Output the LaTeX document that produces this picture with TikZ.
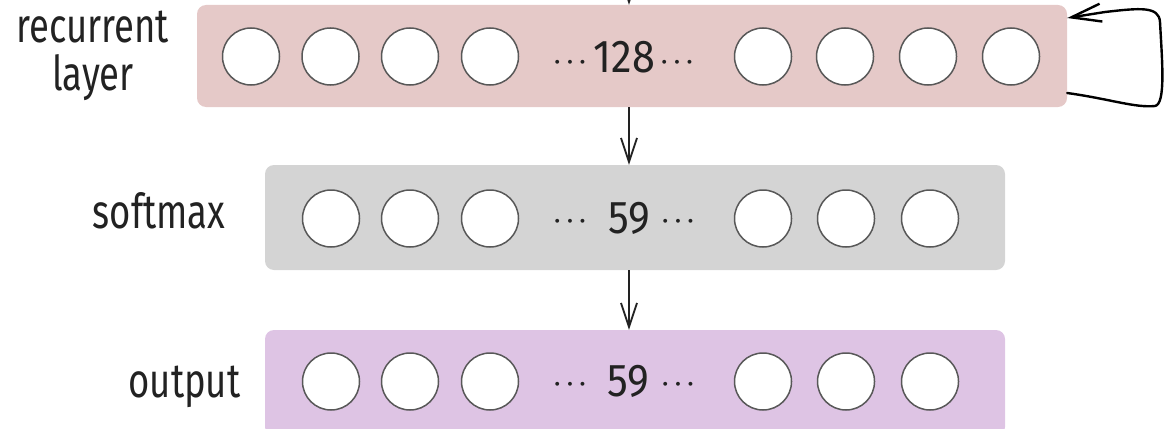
\documentclass[tikz,border=0pt]{standalone}
\usepackage{fontspec}
\setmainfont{Fira Sans}[FakeStretch=0.76]
\newfontfamily\countfont{Fira Sans}[FakeStretch=0.9]
\usetikzlibrary{arrows.meta,calc}
\definecolor{recfill}{RGB}{229,201,200}
\definecolor{softfill}{RGB}{212,212,212}
\definecolor{outfill}{RGB}{222,196,228}
\definecolor{unitline}{RGB}{88,88,88}
\definecolor{inkcol}{RGB}{34,34,34}
\begin{document}
\begin{tikzpicture}[x=1pt,y=-1pt,
  layerbox/.style={rectangle, fill=#1, draw=none, rounded corners=9pt, inner sep=0pt},
  unit/.style={circle, draw=unitline, fill=white, line width=1.5pt, minimum size=57pt, inner sep=0pt},
  lab/.style={font=\fontsize{48}{52}\selectfont, text=inkcol, anchor=base, inner sep=0pt},
  num/.style={font=\countfont\fontsize{46}{46}\selectfont, text=inkcol, anchor=base, inner sep=0pt},
  ellip/.style={font=\fontsize{41}{41}\selectfont\mathversion{bold}, text=inkcol, anchor=base, inner sep=0pt},
  flow/.style={-{Straight Barb[length=24pt,width=16pt]}, line width=1.8pt, draw=inkcol},
  loopline/.style={-{Straight Barb[length=30pt,width=18pt]}, line width=2.4pt, draw=black, line cap=round, line join=round},
]
\useasboundingbox (0,0) rectangle (1166,428);

% layer backgrounds
\node[layerbox=recfill, minimum width=870pt, minimum height=102pt] (rec) at (632,56) {};
\node[layerbox=softfill, minimum width=740pt, minimum height=105pt] (soft) at (635,217.5) {};
\node[layerbox=outfill, minimum width=740pt, minimum height=106pt] (out) at (635,383) {};

% units
\foreach \x [count=\i] in {251,330.5,410,490,763,845,928,1011}
  \node[unit] (r\i) at (\x,56.5) {};
\foreach \x [count=\i] in {331,410,490,763,846,930}
  \node[unit] (s\i) at (\x,218.5) {};
\foreach \x [count=\i] in {331,410,490,763,846,930}
  \node[unit] (o\i) at (\x,381.5) {};

% unit counts
\node[num] (nrec) at (624.5,72) {128};
\node[num] (nsoft) at (629,233) {59};
\node[num] (nout) at (628,396) {59};
\node[ellip] (drl) at (570,68) {$\cdots$};
\node[ellip] (drr) at (677,68) {$\cdots$};
\node[ellip] (dsl) at (570,227.5) {$\cdots$};
\node[ellip] (dsr) at (678,227.5) {$\cdots$};
\node[ellip] (dol) at (570,390.5) {$\cdots$};
\node[ellip] (dor) at (678,390.5) {$\cdots$};

% layer labels
\node[lab] (lrec1) at (92.5,42) {recurrent};
\node[lab] (lrec2) at (93,90) {layer};
\node[lab] (lsoft) at (159,228) {softmax};
\node[lab] (lout) at (184.5,397) {output};

% connections
\coordinate (axis) at (629,-40);
\draw[flow] (axis) -- (rec.north -| axis);
\draw[flow] (rec.south -| axis) -- (soft.north -| axis);
\draw[flow] (soft.south -| axis) -- (out.north -| axis);

% recurrent self-loop
\draw[loopline] ([yshift=-37pt]rec.east)
  .. controls (1110,99) and (1135,108) .. (1155,106)
  .. controls (1166,104) and (1162,60) .. (1160,22)
  .. controls (1159,6) and (1140,8) .. (1105,12)
  -- ([yshift=38pt]rec.east);
\end{tikzpicture}
\end{document}
